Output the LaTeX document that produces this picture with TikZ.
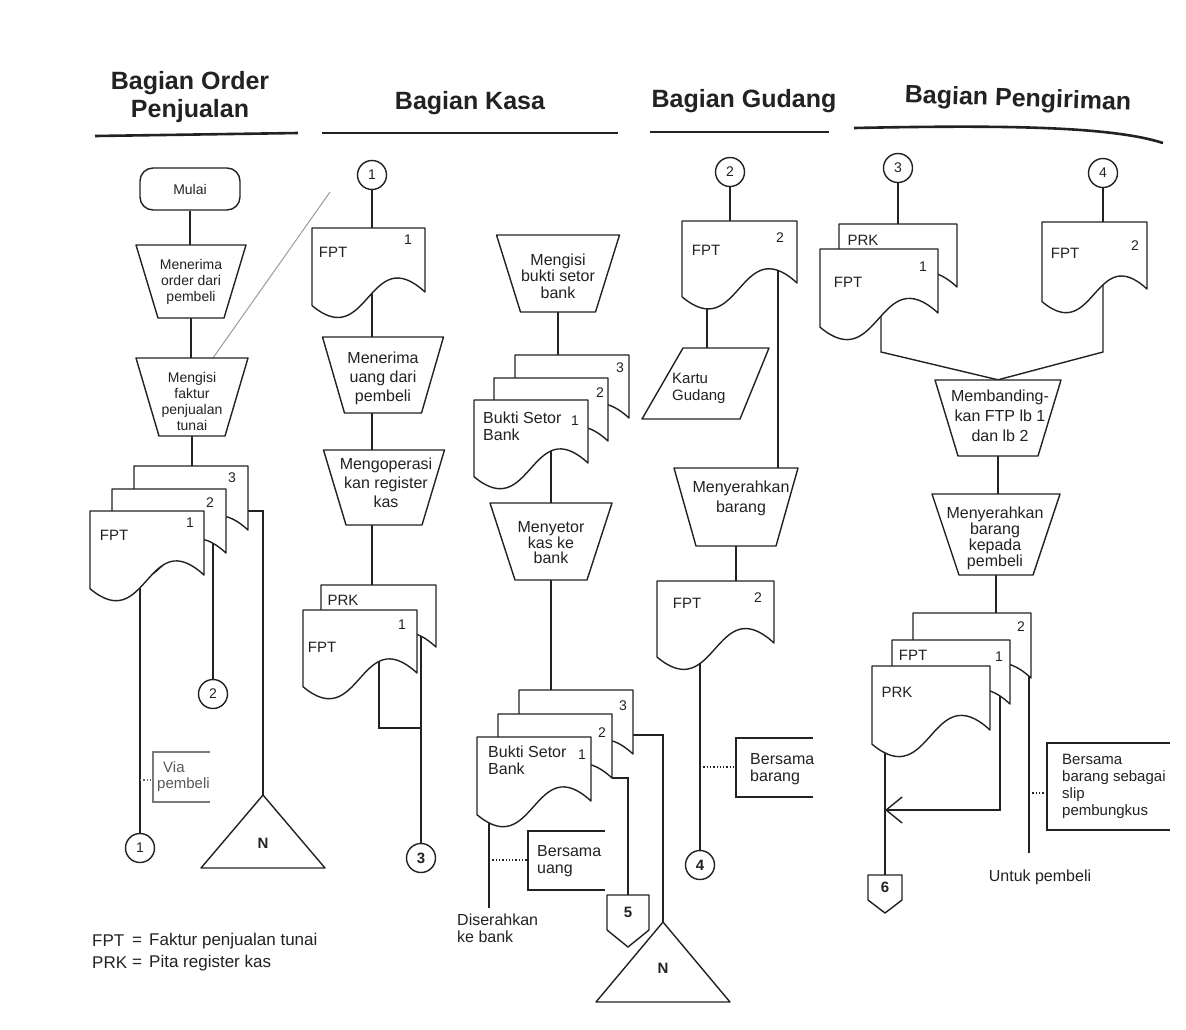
\documentclass[tikz,border=0pt]{standalone}
\usepackage{fontspec}
\setmainfont{Liberation Sans}
\usetikzlibrary{calc,arrows.meta}
\definecolor{ink}{HTML}{222222}
\pgfdeclarelayer{paper}
\pgfdeclarelayer{bg}
\pgfsetlayers{paper,bg,main}
\newcommand{\fs}[2]{\fontsize{#1}{#2}\selectfont}
% document symbol: name, x, y (top-left), width, right-side height
\newcommand{\docu}[5]{%
  \pgfmathsetmacro\dxR{#2+#4}%
  \pgfmathsetmacro\dyB{#3+#5}%
  \pgfmathsetmacro\dxM{#2+0.5*#4}%
  \pgfmathsetmacro\dcA{#3+#5-0.46*#4}%
  \pgfmathsetmacro\dcB{#3+#5+0.54*#4}%
  \pgfmathsetmacro\dyL{#3+#5+0.12*#4}%
  \pgfmathsetmacro\dyC{#3+0.5*#5}%
  \pgfmathsetmacro\dyE{#3+0.7*#5}%
  \path[shp] (#2,#3) -- (\dxR,#3) -- (\dxR,\dyB) .. controls (\dxM,\dcA) and (\dxM,\dcB) .. (#2,\dyL) -- cycle;
  \coordinate (#1) at (\dxM,\dyC);
  \coordinate (#1-tl) at (#2,#3);
  \coordinate (#1-r) at (\dxR,\dyB);
  \coordinate (#1-e) at (\dxR,\dyE);
}
% manual operation: name, cx, ytop, ybot, wtop, wbot
\newcommand{\mop}[6]{%
  \pgfmathsetmacro\mqA{#2-0.5*#5}%
  \pgfmathsetmacro\mqB{#2+0.5*#5}%
  \pgfmathsetmacro\mqC{#2+0.5*#6}%
  \pgfmathsetmacro\mqD{#2-0.5*#6}%
  \pgfmathsetmacro\mqY{0.5*(#3+#4)}%
  \pgfmathsetmacro\mqH{#4-#3}%
  \path[shp] (\mqA,#3) -- (\mqB,#3) -- (\mqC,#4) -- (\mqD,#4) -- cycle;
  \node[inner sep=0pt, minimum width=#5pt, minimum height=\mqH pt] (#1) at (#2,\mqY) {};
}
\begin{document}
\begin{tikzpicture}[x=1pt,y=-1pt,
  every node/.style={text=ink},
  ln/.style={draw=ink, line width=1.4pt},
  shp/.style={draw=ink, fill=white, line width=1.4pt, line join=round},
  rnd/.style={rectangle, rounded corners=13pt, draw=ink, fill=white, line width=1.4pt, minimum width=100pt, minimum height=42pt, font=\fs{14}{16}},
  circ/.style={circle, draw=ink, fill=white, line width=1.4pt, minimum size=29pt, inner sep=0pt, font=\fs{14}{16}},
  circb/.style={circ, font=\fs{15}{17}\bfseries},
  tx/.style={align=center, inner sep=0pt, font=\fs{16}{19}},
  txl/.style={align=center, inner sep=0pt, font=\fs{14}{16}},
  lab/.style={inner sep=0pt, font=\fs{15}{17}},
  num/.style={inner sep=0pt, font=\fs{14}{16}},
  big/.style={inner sep=0pt, font=\fs{15}{17}\bfseries},
  hd/.style={align=center, inner sep=0pt, font=\fs{25}{28}\bfseries},
  hl/.style={draw=ink, line width=2.6pt},
  note/.style={align=left, inner sep=0pt, anchor=west, font=\fs{16}{17}},
  leg/.style={inner sep=0pt, font=\fs{17}{19}},
  anno/.style={draw=ink, line width=1.2pt},
  dots/.style={draw=ink, line width=1.3pt, dash pattern=on 1.3pt off 2pt}
]
\begin{pgfonlayer}{paper}
  \fill[white] (0,0) rectangle (1186,1029);
\end{pgfonlayer}
\useasboundingbox (0,0) rectangle (1186,1029);

% ---------- headers ----------
\node[hd] (hOP) at (190,97) {Bagian Order\\Penjualan};
\node[hd] (hK) at (470,103) {Bagian Kasa};
\node[hd] (hG) at (744,101) {Bagian Gudang};
\node[hd, rotate=-2] (hP) at (1018,100) {Bagian Pengiriman};
\draw[hl] (95,136) -- (298,133);
\draw[hl] (322,133) -- (618,133);
\draw[hl] (650,132) -- (829,132);
\draw[hl] (854,128) .. controls (1000,125) and (1110,126) .. (1163,143);

% faint stray line
\draw[draw=ink!45, line width=1pt] (158,436) -- (330,192);

% ---------- Bagian Order Penjualan ----------
\node[rnd] (mulai) at (190,189) {Mulai};
\mop{tL1}{191}{245}{318}{110}{66}
\node[txl] at (191,282) {Menerima\\order dari\\pembeli};
\mop{tL2}{192}{358}{436}{112}{66}
\node[txl] at (192,401) {Mengisi\\faktur\\penjualan\\tunai};
\docu{dL3}{134}{466}{114}{64}
\node[num] at ($(dL3-tl)+(98,12)$) {3};
\docu{dL2}{112}{489}{114}{64}
\node[num] at ($(dL2-tl)+(98,14)$) {2};
\docu{dL1}{90}{511}{114}{64}
\node[lab] at ($(dL1-tl)+(24,24)$) {FPT};
\node[num] at ($(dL1-tl)+(100,12)$) {1};
\node[circ] (cL2) at (213,694) {2};
\node[circ] (cL1) at (140,848) {1};
\path[shp] (263,795) -- (325,868) -- (201,868) -- cycle;
\coordinate (triLa) at (263,795);
\node[big] (triL) at (263,843) {N};
\draw[anno, draw=ink!60] (210,752) -- (153,752) -- (153,802) -- (210,802);
\coordinate (viaB) at (153,780);
\node[note, text=ink!75, font=\fs{15}{16}] (via) at (157,777) {\hspace*{6pt}Via\\pembeli};
\node[leg, anchor=west] (lg1) at (92,941) {FPT};
\node[leg] (lg1e) at (137,941) {=};
\node[leg, anchor=west] (lg1t) at (149,941) {Faktur penjualan tunai};
\node[leg, anchor=west] (lg2) at (92,963) {PRK};
\node[leg] (lg2e) at (137,963) {=};
\node[leg, anchor=west] (lg2t) at (149,963) {Pita register kas};

% ---------- Bagian Kasa (left) ----------
\node[circ] (cK1) at (372,175) {1};
\docu{dK1}{312}{228}{113}{64}
\node[lab] at ($(dK1-tl)+(21,24)$) {FPT};
\node[num] at ($(dK1-tl)+(96,12)$) {1};
\mop{tK1}{383}{337}{413}{121}{77}
\node[tx] at (383,378) {Menerima\\uang dari\\pembeli};
\mop{tK2}{384}{450}{525}{121}{76}
\node[tx] at (386,483) {Mengoperasi\\kan register\\kas};
\docu{dK2b}{321}{585}{115}{62}
\node[lab] at ($(dK2b-tl)+(22,15)$) {PRK};
\docu{dK2}{303}{610}{114}{63}
\node[lab] at ($(dK2-tl)+(19,37)$) {FPT};
\node[num] at ($(dK2-tl)+(99,15)$) {1};
\node[circb] (cK3) at (421,858) {3};
\coordinate (kF) at (379,728);
\coordinate (kJ) at (421,728);

% ---------- Bagian Kasa (right) ----------
\mop{tK3}{558}{235}{312}{123}{75}
\node[tx, font=\fs{16}{16.5}] at (558,276) {Mengisi\\bukti setor\\bank};
\docu{dB13}{515}{355}{114}{63}
\node[num] at ($(dB13-tl)+(105,13)$) {3};
\docu{dB12}{494}{378}{114}{63}
\node[num] at ($(dB12-tl)+(106,15)$) {2};
\docu{dB11}{474}{400}{114}{63}
\node[note] at ($(dB11-tl)+(9,26)$) {Bukti Setor\\Bank};
\node[num] at ($(dB11-tl)+(101,21)$) {1};
\mop{tK4}{551}{503}{580}{122}{72}
\node[tx, font=\fs{16}{15.5}] at (551,543) {Menyetor\\kas ke\\bank};
\docu{dB23}{519}{690}{114}{64}
\node[num] at ($(dB23-tl)+(104,16)$) {3};
\docu{dB22}{498}{714}{114}{64}
\node[num] at ($(dB22-tl)+(104,19)$) {2};
\docu{dB21}{477}{737}{114}{64}
\node[note] at ($(dB21-tl)+(11,23)$) {Bukti Setor\\Bank};
\node[num] at ($(dB21-tl)+(105,18)$) {1};
\coordinate (dz) at (489,908);
\node[note, anchor=north west] (diser) at (457,914) {Diserahkan\\ke bank};
\draw[anno] (605,831) -- (528,831) -- (528,890) -- (605,890);
\coordinate (bu) at (528,860);
\node[note] (bers1) at (537,861) {Bersama\\uang};
\path[shp] (607,895) -- (649,895) -- (649,930) -- (628,947) -- (607,930) -- cycle;
\node[inner sep=0pt, minimum width=42pt, minimum height=35pt, font=\fs{15}{17}\bfseries] (p5) at (628,912.5) {5};
\path[shp] (663,922) -- (730,1002) -- (596,1002) -- cycle;
\coordinate (triRa) at (663,922);
\node[big] (triR) at (663,968) {N};

% ---------- Bagian Gudang ----------
\node[circ] (cG2) at (730,172) {2};
\docu{dG1}{682}{221}{115}{62}
\node[lab] at ($(dG1-tl)+(24,29)$) {FPT};
\node[num] at ($(dG1-tl)+(98,17)$) {2};
\path[shp] (683,348) -- (769,348) -- (740,419) -- (642,419) -- cycle;
\node[note, font=\fs{15}{17}] (kartu) at (672,388) {Kartu\\Gudang};
\coordinate (kt) at (707,348);
\mop{tG}{736}{468}{546}{124}{80}
\node[tx, font=\fs{16}{20}] at (741,498) {Menyerahkan\\barang};
\coordinate (gx) at (778,468);
\docu{dG2}{657}{581}{117}{62}
\node[lab] at ($(dG2-tl)+(30,22)$) {FPT};
\node[num] at ($(dG2-tl)+(101,17)$) {2};
\node[circb] (cG4) at (700,865) {4};
\draw[anno] (813,738) -- (736,738) -- (736,797) -- (813,797);
\coordinate (bb) at (736,767);
\node[note] (bers2) at (750,769) {Bersama\\barang};

% ---------- Bagian Pengiriman ----------
\node[circ] (cP3) at (898,168) {3};
\node[circ] (cP4) at (1103,173) {4};
\docu{dP1b}{839}{224}{118}{63}
\node[lab] at ($(dP1b-tl)+(24,16)$) {PRK};
\docu{dP1}{820}{249}{118}{64}
\node[lab] at ($(dP1-tl)+(28,33)$) {FPT};
\node[num] at ($(dP1-tl)+(103,18)$) {1};
\docu{dP2}{1042}{222}{105}{67}
\node[lab] at ($(dP2-tl)+(23,31)$) {FPT};
\node[num] at ($(dP2-tl)+(93,24)$) {2};
\coordinate (pa) at (881,352);
\coordinate (pb) at (1103,352);
\mop{tP1}{998}{380}{456}{126}{80}
\node[tx, font=\fs{16}{20}] at (1000,416) {Membanding-\\kan FTP lb 1\\dan lb 2};
\mop{tP2}{996}{494}{575}{128}{74}
\node[tx, font=\fs{16}{16}] at (995,538) {Menyerahkan\\barang\\kepada\\pembeli};
\docu{dS3}{913}{613}{118}{65}
\node[num] at ($(dS3-tl)+(108,14)$) {2};
\docu{dS2}{892}{640}{118}{64}
\node[lab] at ($(dS2-tl)+(21,15)$) {FPT};
\node[num] at ($(dS2-tl)+(107,17)$) {1};
\docu{dS1}{872}{666}{118}{64}
\node[lab] at ($(dS1-tl)+(25,26)$) {PRK};
\path[shp] (868,875) -- (902,875) -- (902,900) -- (885,913) -- (868,900) -- cycle;
\node[inner sep=0pt, minimum width=34pt, minimum height=25pt, font=\fs{15}{17}\bfseries] (p6) at (885,887.5) {6};
\coordinate (ak) at (1000,810);
\coordinate (at) at (885,810);
\coordinate (up) at (1029,853);
\node[tx] (untuk) at (1040,877) {Untuk pembeli};
\draw[anno] (1170,743) -- (1047,743) -- (1047,830) -- (1170,830);
\coordinate (bs) at (1047,793);
\node[note, font=\fs{15}{17}] (bers3) at (1062,786) {Bersama\\barang sebagai\\slip\\pembungkus};

% ---------- connectors (behind shapes) ----------
\begin{pgfonlayer}{bg}
  % order penjualan
  \draw[ln] (mulai) -- (mulai |- tL1);
  \draw[ln] (tL1) -- (tL1 |- tL2);
  \draw[ln] (tL2) -- (tL2 |- dL3);
  \draw[ln] (cL1) -- (cL1 |- dL1);
  \draw[ln] (cL2) -- (cL2 |- dL2);
  \draw[ln] (dL3-e) -| (triLa);
  \draw[dots, draw=ink!70] (cL1 |- viaB) -- (viaB);
  % kasa left
  \draw[ln] (cK1) -- (cK1 |- dK1);
  \draw[ln] (cK1 |- dK1) -- (cK1 |- tK1);
  \draw[ln] (cK1 |- tK1) -- (cK1 |- tK2);
  \draw[ln] (cK1 |- tK2) -- (cK1 |- dK2b);
  \draw[ln] (kF |- dK2) -- (kF) -- (kJ);
  \draw[ln] (cK3) -- (cK3 |- dK2b);
  % kasa right
  \draw[ln] (tK3) -- (tK3 |- dB13);
  \draw[ln] (tK4 |- dB11) -- (tK4);
  \draw[ln] (tK4) -- (tK4 |- dB23);
  \draw[ln] (dz |- dB21) -- (dz);
  \draw[dots] (dz |- bu) -- (bu);
  \draw[ln] (dB22-r) -| (p5.north);
  \draw[ln] (dB23-e) -| (triRa);
  % gudang
  \draw[ln] (cG2) -- (cG2 |- dG1);
  \draw[ln] (kt |- dG1) -- (kt);
  \draw[ln] (gx |- dG1) -- (gx);
  \draw[ln] (tG) -- (tG |- dG2);
  \draw[ln] (cG4) -- (cG4 |- dG2);
  \draw[dots] (cG4 |- bb) -- (bb);
  % pengiriman
  \draw[ln] (cP3) -- (cP3 |- dP1b);
  \draw[ln] (cP4) -- (cP4 |- dP2);
  \draw[ln] (pa |- dP1) -- (pa) -- (tP1.north);
  \draw[ln] (pb |- dP2) -- (pb) -- (tP1.north);
  \draw[ln] (tP1) -- (tP1 |- tP2);
  \draw[ln] (tP2) -- (tP2 |- dS3);
  \draw[ln] (p6) -- (p6 |- dS1);
  \draw[ln, -{Straight Barb[length=16pt, width=26pt]}] (ak |- dS2) -- (ak) -- (at);
  \draw[ln] (up |- dS3) -- (up);
  \draw[dots] (up |- bs) -- (bs);
\end{pgfonlayer}
\end{tikzpicture}
\end{document}
